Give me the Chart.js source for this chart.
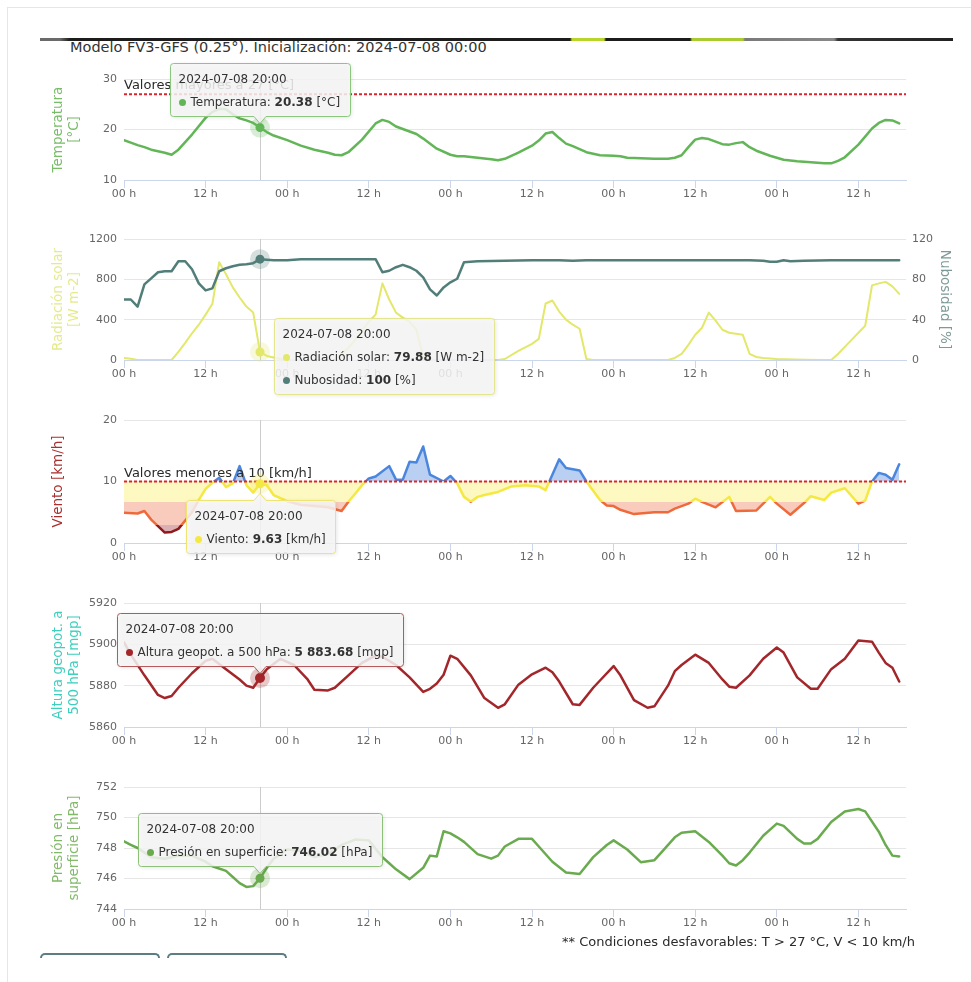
<!DOCTYPE html>
<html lang="es">
<head>
<meta charset="utf-8">
<title>Meteograma FV3-GFS</title>
<script src="https://cdn.jsdelivr.net/npm/chart.js@4.4.1/dist/chart.umd.min.js"></script>
<style>
  html,body{margin:0;padding:0;background:#fff;}
  body{width:971px;height:982px;position:relative;overflow:hidden;font-family:"DejaVu Sans",sans-serif;color:#333;}
  #frame{position:absolute;left:7px;top:7px;width:975px;height:990px;border-top:1px solid #e6e6e6;border-left:1px solid #e6e6e6;}
  #strip{position:absolute;left:40px;top:38px;width:913px;height:3px;background:linear-gradient(to right,#6a6a6a 0,#6a6a6a 20px,#1c1c1c 30px,#1c1c1c 530px,#b8d62a 532px,#b8d62a 564px,#1c1c1c 566px,#1c1c1c 650px,#aacb30 652px,#aacb30 703px,#7a7a7a 705px,#888 794px,#333 798px,#222 913px);}
  #title{position:absolute;left:70px;top:39px;font-size:14.5px;line-height:16px;color:#333;white-space:nowrap;}
  .panel{position:absolute;left:0;width:971px;}
  #foot{position:absolute;right:56px;top:934px;font-size:13px;line-height:16px;color:#2a2a2a;white-space:nowrap;}
  .btn{position:absolute;top:953px;width:116px;height:3px;border:2px solid #5c7e82;border-bottom:none;border-radius:5px 5px 0 0;}
</style>
</head>
<body>
<div id="frame"></div>
<div id="strip"></div>
<div id="title">Modelo FV3-GFS (0.25°). Inicialización: 2024-07-08 00:00</div>
<div class="panel" style="top:55px;height:155px;"><canvas id="c1"></canvas></div>
<div class="panel" style="top:225px;height:175px;"><canvas id="c2"></canvas></div>
<div class="panel" style="top:405px;height:168px;"><canvas id="c3"></canvas></div>
<div class="panel" style="top:588px;height:169px;"><canvas id="c4"></canvas></div>
<div class="panel" style="top:772px;height:167px;"><canvas id="c5"></canvas></div>
<div id="foot">** Condiciones desfavorables: T &gt; 27 °C, V &lt; 10 km/h</div>
<div class="btn" style="left:40px"></div>
<div class="btn" style="left:167px"></div>
<script>
// ---------------- DATA (hours since 2024-07-08 00:00) ----------------
const X_MIN = 0, X_MAX = 115, X_STEP = 12;
const xTickLabels = ['00 h', '12 h'];
const HOVER_HOUR = 20;
const TOOLTIP_TITLE = '2024-07-08 20:00';

const tempHours = [0,1,2,3,4,5,6,7,8,10,12,13,14,15,16,17,18,19,20,21,22,24,26,28,30,31,32,33,35,37,38,39,40,41,43,44,46,48,49,50,52,54,55,56,58,60,61,62,63,64,65,66,68,70,72,73,74,76,78,80,81,82,83,84,85,86,87,88,89,90,91,92,93,95,97,99,101,103,104,105,106,108,110,111,112,113,114];
const tempValues = [17.9,17.4,16.9,16.5,16.0,15.7,15.4,15.0,16.0,19.0,22.3,23.5,24.1,24.0,23.0,22.2,21.8,21.3,20.38,19.5,18.8,17.9,16.8,16.0,15.4,15.0,14.9,15.5,18.0,21.2,21.9,21.5,20.6,20.1,19.1,18.2,16.2,15.0,14.7,14.7,14.4,14.1,13.9,14.2,15.4,16.8,17.8,19.2,19.5,18.3,17.2,16.7,15.5,14.9,14.8,14.7,14.4,14.3,14.2,14.2,14.4,14.9,16.5,18.0,18.3,18.1,17.6,17.1,17.0,17.3,17.5,16.5,15.8,14.8,14.0,13.7,13.5,13.3,13.3,13.8,14.5,17.0,20.2,21.3,21.9,21.8,21.2];
const tempThreshold = 27;

const radHours = [0,1,2,7,8,9,10,11,12,13,14,15,16,17,18,19,20,21,22,23,24,31,32,33,34,35,36,37,38,39,40,41,42,43,44,45,46,55,56,58,60,61,62,63,64,65,66,67,68,69,80,81,82,83,84,85,86,87,88,89,90,91,92,93,94,96,100,103,104,105,106,107,108,109,110,111,112,113,114];
const radValues = [20,13,0,0,80,170,265,350,450,557,970,850,720,620,530,470,79.88,40,25,10,0,0,60,120,200,290,380,450,760,600,470,420,380,300,30,5,0,0,10,90,160,210,560,590,480,400,350,310,10,0,0,20,60,150,250,320,470,390,300,270,260,250,60,30,20,10,3,0,0,60,130,200,270,340,740,760,775,730,656];

const cloudHours = [0,1,2,3,4,5,6,7,8,9,10,11,12,13,14,15,16,17,18,19,20,22,24,26,30,34,37,38,39,40,41,42,43,44,45,46,47,48,49,50,52,56,60,64,66,68,72,80,88,92,94,95,96,97,98,100,104,108,114];
const cloudValues = [60,60,53,75,81,87,88,88,98,98,90,76,69,71,88,91,93,94.5,95,96,100,99,99,100,100,100,100,87,88.5,92,94.4,92,88.5,82,70,64,72,77,80.6,97,98,98.5,99,99,98.5,99,99,99,99,99,98.5,97.5,97.5,99,98,98.5,99,99,99];

const windHours = [0,2,3,4,6,7,8,10,11,12,13,14,15,16,17,18,19,20,21,22,24,26,28,30,32,33,34,35,36,37,39,40,41,42,43,44,45,47,48,49,50,51,52,53,55,57,59,61,62,64,65,67,68,70,71,72,73,75,78,80,81,83,84,85,87,89,90,93,95,96,98,100,101,103,104,106,108,109,110,111,112,113,114];
const windValues = [4.9,4.8,5.2,3.8,1.7,1.8,2.3,5.0,7.0,8.8,9.8,10.6,9.1,9.7,12.5,9.4,8.2,9.63,9.4,7.8,6.8,6.2,6.0,5.8,5.2,6.7,8.0,9.4,10.5,10.8,12.5,10.3,10.3,13.2,13.1,15.7,11.1,10.0,10.9,9.7,7.5,6.7,7.5,7.8,8.3,9.2,9.4,9.2,8.6,13.6,12.2,11.8,10.0,7.0,6.1,6.0,5.4,4.7,5.0,5.0,5.6,6.4,7.2,6.7,5.8,7.5,5.2,5.3,7.5,6.4,4.6,6.5,7.6,7.0,8.2,8.9,6.4,6.9,10.0,11.4,11.1,10.3,12.8];
const windThreshold = 10;
const windZoneLimits = [3, 6.6, 10];

const geoHours = [0,1,3,5,6,7,8,10,12,13,15,17,18,19,20,21,23,25,27,28,30,31,33,35,37,38,40,42,44,45,46,47,48,49,51,53,55,56,58,60,62,63,64,66,67,69,70,72,73,75,77,78,80,81,82,84,86,88,89,90,92,94,96,97,99,101,102,104,106,108,110,111,112,113,114];
const geoValues = [5901,5895,5885,5875.5,5874,5875,5879,5886,5892,5893,5888,5883,5880,5879,5883.68,5888,5893,5890,5883,5878,5877.7,5879,5885,5891,5894.5,5894,5890,5884,5877,5878.5,5881,5885.3,5894.5,5893,5885,5874,5869.3,5871,5880.5,5885.5,5888.7,5886.5,5882,5871,5870.7,5879,5882.5,5889.5,5885,5873,5869.3,5870,5880,5887,5890,5895,5891,5883,5879.5,5879,5885,5893,5898.5,5896,5884,5878.5,5878.5,5888,5893,5901.8,5901.3,5896,5891,5888.7,5882];

const presHours = [0,1,2,4,6,8,10,12,13,15,16,17,18,19,20,21,22,24,26,28,30,32,34,36,38,39,40,42,44,45,46,47,48,49,50,52,54,55,56,58,60,61,63,65,67,69,71,72,74,76,78,79,81,82,84,86,88,89,90,91,92,94,96,97,99,100,101,102,104,106,108,109,111,112,113,114];
const presValues = [748.44,748.2,748.0,747.4,747.3,747.5,747.5,747.1,746.8,746.5,746.1,745.7,745.45,745.5,746.02,746.7,747.3,747.9,747.8,747.4,747.6,748.2,748.55,748.5,747.4,747.0,746.6,745.96,746.7,747.5,747.45,749.1,748.96,748.7,748.4,747.6,747.3,747.5,748.1,748.6,748.6,748.1,747.1,746.4,746.3,747.4,748.2,748.5,747.9,747.07,747.2,747.7,748.7,749.0,749.1,748.4,747.5,747.0,746.85,747.2,747.7,748.8,749.6,749.45,748.6,748.3,748.3,748.6,749.7,750.4,750.56,750.4,749.07,748.2,747.5,747.45];

// ---------------- STYLE ----------------
const FONT = '"DejaVu Sans", sans-serif';
Chart.defaults.font.family = FONT;
Chart.defaults.font.size = 11;
Chart.defaults.color = '#666666';

const C = {
  temp: '#62b657', rad: '#e3e86a', cloud: '#527e7a', geo: '#a3262a', pres: '#6aab4f',
  windLine: ['#8e1b1b', '#ef6a3b', '#f4e842', '#4a86dd'],
  windFill: ['rgba(185,95,105,0.5)', 'rgba(244,160,135,0.55)', 'rgba(252,245,160,0.65)', 'rgba(100,150,225,0.45)']
};

function pts(hours, values) { return hours.map((h, i) => ({x: h, y: values[i]})); }
function alpha(hex, a) { const n = parseInt(hex.slice(1), 16); return `rgba(${n >> 16},${(n >> 8) & 255},${n & 255},${a})`; }
function fmt(v) {
  const s = Number.isInteger(v) ? String(v) : v.toFixed(2);
  const [i, d] = s.split('.');
  const ii = i.replace(/\B(?=(\d{3})+(?!\d))/g, ' ');
  return d ? ii + '.' + d : ii;
}
function bandGradient(chart, limits, colors) {
  const {ctx, chartArea, scales} = chart;
  if (!chartArea || !scales.y) return colors[colors.length - 1];
  const y = scales.y;
  const g = ctx.createLinearGradient(0, y.getPixelForValue(y.min), 0, y.getPixelForValue(y.max));
  const span = y.max - y.min;
  g.addColorStop(0, colors[0]);
  limits.forEach((l, i) => { const f = (l - y.min) / span; g.addColorStop(f, colors[i]); g.addColorStop(f, colors[i + 1]); });
  g.addColorStop(1, colors[colors.length - 1]);
  return g;
}

function drawTooltip(chart, cfg) {
  const ctx = chart.ctx, n = cfg.items.length;
  const els = cfg.items.map(it => chart.getDatasetMeta(it.ds).data[it.idx]);
  const px = els[0].x;
  const py = els.reduce((s, e) => s + e.y, 0) / n;
  const fN = '12px ' + FONT, fB = 'bold 12px ' + FONT;
  ctx.save();
  ctx.font = fN;
  let w = ctx.measureText(TOOLTIP_TITLE).width + 16;
  const parts = cfg.items.map(it => {
    ctx.font = fN;
    const a = ctx.measureText(it.label + ': ').width;
    const c = ctx.measureText(' ' + it.unit).width;
    ctx.font = fB;
    const b = ctx.measureText(it.text).width;
    w = Math.max(w, 20 + a + b + c + 10);
    return {a, b, c};
  });
  const W = Math.round(w), H = 16 + 23 * n + 14;
  let left, top, caret;
  if (cfg.place === 'above') { left = px - W / 2; top = py - 12 - H; caret = 'bottom'; }
  else if (cfg.place === 'below') { left = px - W / 2; top = py + 16; caret = 'top'; }
  else { left = px + 14; top = py + 12; caret = 'none'; }
  left = Math.round(left) + 0.5; top = Math.round(top) + 0.5;
  const r = 3;
  ctx.beginPath();
  ctx.moveTo(left + r, top);
  if (caret === 'top') { ctx.lineTo(px - 6, top); ctx.lineTo(px, top - 7); ctx.lineTo(px + 6, top); }
  ctx.lineTo(left + W - r, top); ctx.arcTo(left + W, top, left + W, top + r, r);
  ctx.lineTo(left + W, top + H - r); ctx.arcTo(left + W, top + H, left + W - r, top + H, r);
  if (caret === 'bottom') { ctx.lineTo(px + 6, top + H); ctx.lineTo(px, top + H + 7); ctx.lineTo(px - 6, top + H); }
  ctx.lineTo(left + r, top + H); ctx.arcTo(left, top + H, left, top + H - r, r);
  ctx.lineTo(left, top + r); ctx.arcTo(left, top, left + r, top, r);
  ctx.closePath();
  ctx.shadowColor = 'rgba(0,0,0,0.13)'; ctx.shadowBlur = 4; ctx.shadowOffsetX = 1; ctx.shadowOffsetY = 1;
  ctx.fillStyle = 'rgba(247,247,247,0.85)';
  ctx.fill();
  ctx.shadowColor = 'transparent';
  ctx.strokeStyle = cfg.border; ctx.lineWidth = 1; ctx.stroke();
  ctx.textBaseline = 'middle'; ctx.textAlign = 'left';
  ctx.fillStyle = '#333'; ctx.font = fN;
  ctx.fillText(TOOLTIP_TITLE, left + 8, top + 16);
  cfg.items.forEach((it, i) => {
    const y = top + 16 + 23 * (i + 1), p = parts[i];
    ctx.fillStyle = it.color; ctx.beginPath(); ctx.arc(left + 12, y, 3.5, 0, Math.PI * 2); ctx.fill();
    ctx.fillStyle = '#333'; ctx.font = fN; ctx.fillText(it.label + ': ', left + 20, y);
    ctx.font = fB; ctx.fillText(it.text, left + 20 + p.a, y);
    ctx.font = fN; ctx.fillText(' ' + it.unit, left + 20 + p.a + p.b, y);
  });
  ctx.restore();
}

function meteoPlugin(cfg) {
  return {
    id: 'meteo',
    beforeDatasetsDraw(chart) {
      const {ctx, chartArea: a, scales: {x}} = chart;
      const px = Math.round(x.getPixelForValue(HOVER_HOUR)) + 0.5;
      ctx.save(); ctx.strokeStyle = '#cccccc'; ctx.lineWidth = 1;
      ctx.beginPath(); ctx.moveTo(px, a.top); ctx.lineTo(px, a.bottom); ctx.stroke(); ctx.restore();
    },
    afterDatasetsDraw(chart) {
      const {ctx, chartArea: a, scales} = chart;
      if (cfg.threshold) {
        const t = cfg.threshold, y = scales.y.getPixelForValue(t.value);
        ctx.save();
        ctx.strokeStyle = '#d9262d'; ctx.lineWidth = 2; ctx.setLineDash([3, 2]);
        ctx.beginPath(); ctx.moveTo(a.left, y); ctx.lineTo(a.right, y); ctx.stroke();
        ctx.setLineDash([]);
        ctx.font = '13px ' + FONT; ctx.fillStyle = '#2a2a2a'; ctx.textBaseline = 'alphabetic'; ctx.textAlign = 'left';
        ctx.fillText(t.label, a.left, y - 5);
        ctx.restore();
      }
      cfg.items.forEach(it => {
        const el = chart.getDatasetMeta(it.ds).data[it.idx];
        ctx.save();
        ctx.fillStyle = alpha(it.color, 0.25);
        ctx.beginPath(); ctx.arc(el.x, el.y, 10, 0, Math.PI * 2); ctx.fill();
        ctx.fillStyle = it.color;
        ctx.beginPath(); ctx.arc(el.x, el.y, it.r || 4.5, 0, Math.PI * 2); ctx.fill();
        ctx.restore();
      });
    },
    afterDraw(chart) { drawTooltip(chart, cfg); }
  };
}

function xScale() {
  return {
    type: 'linear', min: X_MIN, max: X_MAX,
    grid: {drawOnChartArea: false, drawTicks: true, tickLength: 8, color: '#ccd6eb'},
    border: {display: true, color: '#ccd6eb'},
    ticks: {stepSize: X_STEP, includeBounds: false, autoSkip: false, maxRotation: 0, padding: 0, color: '#666',
            callback: v => xTickLabels[(v / X_STEP) % 2]},
    afterFit: s => { s.height = 30; }
  };
}
function yScale(min, max, step, title, color) {
  return {
    type: 'linear', position: 'left', min, max,
    ticks: {stepSize: step, padding: 7, color: '#666', callback: v => String(v)},
    grid: {color: '#e6e6e6', drawTicks: false},
    border: {display: false},
    title: {display: true, text: title, color, font: {size: 13.5, lineHeight: 1.25}, padding: {top: 9.6, bottom: 0}},
    afterFit: s => { s.width = 84; }
  };
}
function options(padTop, padRight, padBottom, scales) {
  return {
    responsive: true, maintainAspectRatio: false, animation: false, events: [],
    layout: {padding: {left: 40, right: padRight, top: padTop, bottom: padBottom}},
    plugins: {legend: {display: false}, tooltip: {enabled: false}},
    elements: {point: {radius: 0, hoverRadius: 0}, line: {tension: 0, borderJoinStyle: 'round', borderCapStyle: 'round'}},
    scales
  };
}

// ---------------- PANEL 1: Temperatura ----------------
const iT = tempHours.indexOf(HOVER_HOUR);
new Chart(document.getElementById('c1'), {
  type: 'line',
  data: {datasets: [{label: 'Temperatura', data: pts(tempHours, tempValues), borderColor: C.temp, borderWidth: 2.5, fill: false}]},
  options: options(24, 65, 0, {x: xScale(), y: yScale(10, 30, 10, ['Temperatura', '[°C]'], '#78bd68')}),
  plugins: [meteoPlugin({
    threshold: {value: tempThreshold, label: 'Valores mayores a ' + tempThreshold + ' [°C]'},
    place: 'above', border: '#8cc77e',
    items: [{ds: 0, idx: iT, color: C.temp, label: 'Temperatura', text: fmt(tempValues[iT]), unit: '[°C]'}]
  })]
});

// ---------------- PANEL 2: Radiación / Nubosidad ----------------
const iR = radHours.indexOf(HOVER_HOUR), iC = cloudHours.indexOf(HOVER_HOUR);
const y2 = {
  type: 'linear', position: 'right', min: 0, max: 120,
  ticks: {stepSize: 40, padding: 6, color: '#666', callback: v => String(v)},
  grid: {drawOnChartArea: false, drawTicks: false}, border: {display: false},
  title: {display: true, text: 'Nubosidad [%]', color: '#7d9a98', font: {size: 13.5, lineHeight: 1.25}, padding: {top: 7.6, bottom: 0}},
  afterFit: s => { s.width = 55; }
};
new Chart(document.getElementById('c2'), {
  type: 'line',
  data: {datasets: [
    {label: 'Radiación solar', data: pts(radHours, radValues), borderColor: C.rad, borderWidth: 2, fill: false, yAxisID: 'y', order: 1},
    {label: 'Nubosidad', data: pts(cloudHours, cloudValues), borderColor: C.cloud, borderWidth: 2.5, fill: false, yAxisID: 'y2', order: 0}
  ]},
  options: options(14, 10, 10, {x: xScale(), y: yScale(0, 1200, 400, ['Radiación solar', '[W m-2]'], '#e6ea8e'), y2}),
  plugins: [meteoPlugin({
    place: 'right', border: '#e3e68f',
    items: [
      {ds: 0, idx: iR, color: C.rad, label: 'Radiación solar', text: fmt(radValues[iR]), unit: '[W m-2]'},
      {ds: 1, idx: iC, color: C.cloud, label: 'Nubosidad', text: fmt(cloudValues[iC]), unit: '[%]'}
    ]
  })]
});

// ---------------- PANEL 3: Viento ----------------
const iW = windHours.indexOf(HOVER_HOUR);
new Chart(document.getElementById('c3'), {
  type: 'line',
  data: {datasets: [{
    label: 'Viento', data: pts(windHours, windValues), borderWidth: 2.5,
    borderColor: ctx => bandGradient(ctx.chart, windZoneLimits, C.windLine),
    backgroundColor: ctx => bandGradient(ctx.chart, windZoneLimits, C.windFill),
    fill: {value: windThreshold}
  }]},
  options: options(15, 65, 0, {x: xScale(), y: yScale(0, 20, 10, 'Viento [km/h]', '#a8302f')}),
  plugins: [meteoPlugin({
    threshold: {value: windThreshold, label: 'Valores menores a ' + windThreshold + ' [km/h]'},
    place: 'below', border: '#efe472',
    items: [{ds: 0, idx: iW, color: C.windLine[2], label: 'Viento', text: fmt(windValues[iW]), unit: '[km/h]'}]
  })]
});

// ---------------- PANEL 4: Altura geopotencial ----------------
const iG = geoHours.indexOf(HOVER_HOUR);
new Chart(document.getElementById('c4'), {
  type: 'line',
  data: {datasets: [{label: 'Altura geopot. a 500 hPa', data: pts(geoHours, geoValues), borderColor: C.geo, borderWidth: 2.5, fill: false}]},
  options: options(15, 65, 0, {x: xScale(), y: yScale(5860, 5920, 20, ['Altura geopot. a', '500 hPa [mgp]'], '#3fcfbd')}),
  plugins: [meteoPlugin({
    place: 'above', border: '#b5595b',
    items: [{ds: 0, idx: iG, color: C.geo, r: 5, label: 'Altura geopot. a 500 hPa', text: fmt(geoValues[iG]), unit: '[mgp]'}]
  })]
});

// ---------------- PANEL 5: Presión en superficie ----------------
const iP = presHours.indexOf(HOVER_HOUR);
new Chart(document.getElementById('c5'), {
  type: 'line',
  data: {datasets: [{label: 'Presión en superficie', data: pts(presHours, presValues), borderColor: C.pres, borderWidth: 2.5, fill: false}]},
  options: options(15, 65, 0, {x: xScale(), y: yScale(744, 752, 2, ['Presión en', 'superficie [hPa]'], '#82ba6a')}),
  plugins: [meteoPlugin({
    place: 'above', border: '#8fc07a',
    items: [{ds: 0, idx: iP, color: C.pres, label: 'Presión en superficie', text: fmt(presValues[iP]), unit: '[hPa]'}]
  })]
});
</script>
</body>
</html>
